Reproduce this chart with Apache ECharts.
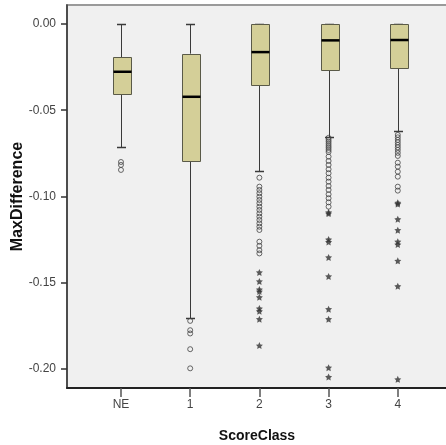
<!DOCTYPE html>
<html>
<head>
<meta charset="utf-8">
<script src="https://cdn.jsdelivr.net/npm/echarts@6/dist/echarts.min.js"></script>
<style>html,body{margin:0;padding:0;background:#fff;}#c{width:446px;height:445px;}</style>
</head>
<body>
<div id="c"></div>
<script>
// ---- data ----
const categories = ['NE', '1', '2', '3', '4'];
const upperWhisker = [0, 0, 0, 0, 0];
const q3 = [-0.0192, -0.0172, 0, 0, 0];
const median = [-0.0277, -0.0422, -0.0163, -0.0095, -0.0093];
const q1 = [-0.0407, -0.0790, -0.0351, -0.0267, -0.0256];
const lowerWhisker = [-0.0714, -0.1707, -0.0854, -0.0653, -0.0620];

const circlesNE = [-0.0800, -0.0817, -0.0846];
const circles1 = [-0.1721, -0.1775, -0.1794, -0.1885, -0.1996];
const circles2 = [-0.0891, -0.0943, -0.0962, -0.0981, -0.1001, -0.1020, -0.1039, -0.1059, -0.1078,
  -0.1098, -0.1117, -0.1136, -0.1156, -0.1175, -0.1194, -0.1262, -0.1286, -0.1311, -0.1330];
const circles3 = [-0.0660, -0.0672, -0.0683, -0.0695, -0.0707, -0.0718, -0.0730, -0.0742, -0.0769,
  -0.0794, -0.0817, -0.0842, -0.0865, -0.0891, -0.0914, -0.0939, -0.0962, -0.0987, -0.1010, -0.1034, -0.1059];
const circles4 = [-0.0643, -0.0657, -0.0672, -0.0686, -0.0701, -0.0715, -0.0730, -0.0747, -0.0765,
  -0.0804, -0.0827, -0.0856, -0.0885, -0.0943, -0.0966];

const starsNE = [];
const stars1 = [];
const stars2 = [-0.1440, -0.1492, -0.1539, -0.1551, -0.1584, -0.1649, -0.1665, -0.1711, -0.1864];
const stars3 = [-0.1092, -0.1099, -0.1249, -0.1264, -0.1353, -0.1463, -0.1653, -0.1711, -0.1992, -0.2046];
const stars4 = [-0.1036, -0.1044, -0.1132, -0.1195, -0.1262, -0.1278, -0.1373, -0.1520, -0.2060];

const yTicks = [0, -0.05, -0.10, -0.15, -0.20];
const xTicks = [0, 1, 2, 3, 4];

// ---- build ----
const circleGroups = [circlesNE, circles1, circles2, circles3, circles4];
const starGroups = [starsNE, stars1, stars2, stars3, stars4];
const boxData = categories.map((c, i) => [i, lowerWhisker[i], q1[i], median[i], q3[i], upperWhisker[i]]);
const circleData = [];
circleGroups.forEach((g, i) => g.forEach(v => circleData.push([i, v])));
const starData = [];
starGroups.forEach((g, i) => g.forEach(v => starData.push([i, v])));

const BOX_W = 0.26, CAP_W = 0.13;
const crisp = v => Math.round(v) + 0.5;

function renderBox(params, api) {
  const x = api.value(0);
  const lo = api.coord([x, api.value(1)]);
  const b1 = api.coord([x, api.value(2)]);
  const md = api.coord([x, api.value(3)]);
  const b3 = api.coord([x, api.value(4)]);
  const hi = api.coord([x, api.value(5)]);
  const bw = api.size([BOX_W, 0])[0];
  const cw = api.size([CAP_W, 0])[0];
  const cx = crisp(lo[0]);
  const line = '#3a3a3a';
  const children = [
    { type: 'line', shape: { x1: cx, y1: crisp(hi[1]), x2: cx, y2: b3[1] }, style: { stroke: line, lineWidth: 1 } },
    { type: 'line', shape: { x1: cx, y1: b1[1], x2: cx, y2: crisp(lo[1]) }, style: { stroke: line, lineWidth: 1 } },
    { type: 'line', shape: { x1: cx - cw / 2, y1: crisp(hi[1]), x2: cx + cw / 2, y2: crisp(hi[1]) }, style: { stroke: line, lineWidth: 1.5 } },
    { type: 'line', shape: { x1: cx - cw / 2, y1: crisp(lo[1]), x2: cx + cw / 2, y2: crisp(lo[1]) }, style: { stroke: line, lineWidth: 1.5 } },
    { type: 'rect', shape: { x: crisp(cx - bw / 2), y: crisp(b3[1]), width: Math.round(bw), height: Math.round(b1[1] - b3[1]) },
      style: { fill: '#d4cf98', stroke: '#5a5a48', lineWidth: 1 } },
    { type: 'line', shape: { x1: crisp(cx - bw / 2), y1: md[1], x2: crisp(cx - bw / 2) + Math.round(bw), y2: md[1] }, style: { stroke: '#000', lineWidth: 2.5 } }
  ];
  return { type: 'group', children };
}

const chart = echarts.init(document.getElementById('c'), null, { renderer: 'canvas' });
chart.setOption({
  animation: false,
  backgroundColor: '#ffffff',
  grid: {
    left: 67, right: -1, top: 5, bottom: 57,
    outerBoundsMode: 'none', containLabel: false,
    show: true, backgroundColor: '#f0f0f0', borderColor: '#9a9a9a', borderWidth: 2
  },
  xAxis: {
    type: 'value', min: -0.78, max: 4.711,
    name: 'ScoreClass', nameLocation: 'middle', nameGap: 41, nameMoveOverlap: false,
    nameTextStyle: { fontFamily: 'Liberation Sans', fontWeight: 'bold', fontSize: 14, color: '#111' },
    axisLine: { show: true, onZero: false, lineStyle: { color: '#222', width: 2 } },
    axisTick: { show: true, inside: false, length: 9, customValues: xTicks, lineStyle: { color: '#555', width: 1.5 } },
    axisLabel: { customValues: xTicks, margin: 11, formatter: v => categories[Math.round(v)] || '',
      fontFamily: 'Liberation Sans', fontSize: 12, color: '#444' },
    splitLine: { show: false }
  },
  yAxis: {
    type: 'value', min: -0.211, max: 0.011,
    name: 'MaxDifference', nameLocation: 'middle', nameGap: 41, nameMoveOverlap: false,
    nameTextStyle: { fontFamily: 'Liberation Sans', fontWeight: 'bold', fontSize: 16, color: '#111' },
    axisLine: { show: true, onZero: false, lineStyle: { color: '#333', width: 1.5 } },
    axisTick: { show: true, inside: false, length: 6, customValues: yTicks, lineStyle: { color: '#333', width: 1.5 } },
    axisLabel: { customValues: yTicks, margin: 11, formatter: v => (Math.abs(v) < 1e-9 ? 0 : v).toFixed(2),
      fontFamily: 'Liberation Sans', fontSize: 12, color: '#444' },
    splitLine: { show: false }
  },
  series: [
    {
      type: 'custom', data: boxData, renderItem: renderBox,
      encode: { x: 0, y: [1, 2, 3, 4, 5] }, clip: false, z: 2
    },
    {
      type: 'scatter', data: circleData, symbol: 'circle', symbolSize: 5, z: 3,
      itemStyle: { color: 'rgba(0,0,0,0)', borderColor: '#444', borderWidth: 1 }
    },
    {
      type: 'scatter', data: starData, z: 3, symbolSize: 7,
      symbol: 'path://M0,-10L2.9,-4L9.5,-3.1L4.7,1.5L5.9,8.1L0,5L-5.9,8.1L-4.7,1.5L-9.5,-3.1L-2.9,-4Z',
      itemStyle: { color: '#333' }
    }
  ]
});
</script>
</body>
</html>
